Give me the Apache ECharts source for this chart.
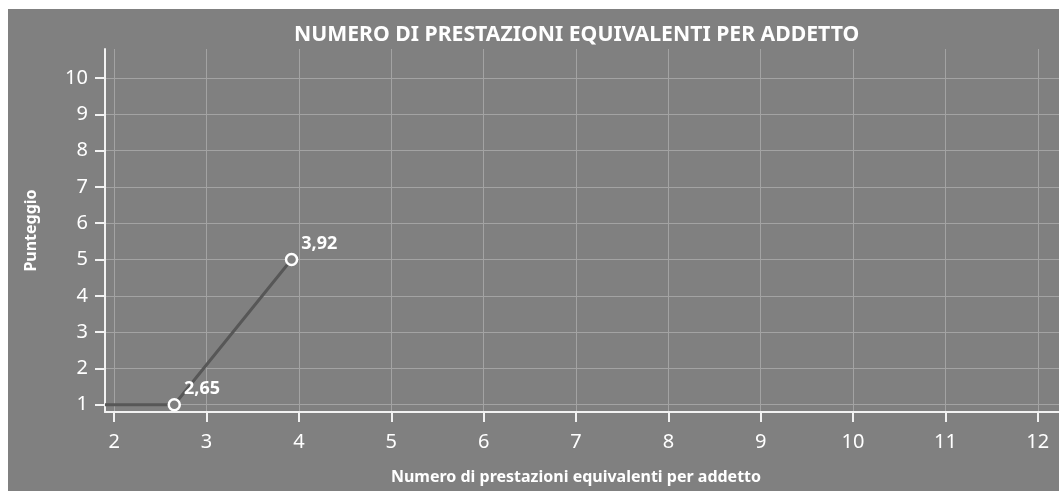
<!DOCTYPE html>
<html>
<head>
<meta charset="utf-8">
<script src="https://cdn.jsdelivr.net/npm/echarts@6/dist/echarts.min.js"></script>
<style>
  html, body { margin: 0; padding: 0; background: #ffffff; width: 1059px; height: 491px; overflow: hidden; }
  #chart { position: absolute; left: 8px; top: 9px; width: 1051px; height: 482px; background: #808080; }
</style>
</head>
<body>
<div id="chart"></div>
<script>
// Data
const chartTitle = 'NUMERO DI PRESTAZIONI EQUIVALENTI PER ADDETTO';
const xAxisName = 'Numero di prestazioni equivalenti per addetto';
const yAxisName = 'Punteggio';
const xValues = [1.9, 2.65, 3.92];
const yValues = [1, 1, 5];
const showMarker = [false, true, true];
const xTicks = [2, 3, 4, 5, 6, 7, 8, 9, 10, 11, 12];
const yTicks = [1, 2, 3, 4, 5, 6, 7, 8, 9, 10];

const FONT = 'Noto Sans';
const chart = echarts.init(document.getElementById('chart'), null, { renderer: 'canvas' });

const seriesData = xValues.map((x, i) => ({
  value: [x, yValues[i]],
  symbol: showMarker[i] ? 'circle' : 'none',
  label: { show: showMarker[i] }
}));

chart.setOption({
  backgroundColor: '#808080',
  animation: false,
  title: {
    text: chartTitle,
    left: 281,
    top: 10,
    textStyle: { color: '#ffffff', fontFamily: FONT, fontWeight: 'bold', fontSize: 21.2 }
  },
  grid: { left: 97, top: 40, right: 0, bottom: 79, containLabel: false },
  xAxis: {
    type: 'value',
    min: 1.9,
    max: 12.23,
    name: xAxisName,
    nameLocation: 'middle',
    nameGap: 57,
    nameTextStyle: { color: '#ffffff', fontFamily: FONT, fontWeight: 'bold', fontSize: 16, padding: [0, 12, 0, 0] },
    axisLine: { show: true, onZero: false, lineStyle: { color: '#f2f2f2', width: 2 } },
    axisTick: { show: true, length: 10, customValues: xTicks, lineStyle: { color: '#f2f2f2', width: 2 } },
    axisLabel: { customValues: xTicks, color: '#ffffff', fontFamily: FONT, fontSize: 20, margin: 20 },
    splitLine: { show: true, lineStyle: { color: '#a3a3a3', width: 1 } }
  },
  yAxis: {
    type: 'value',
    min: 0.8,
    max: 10.8,
    name: yAxisName,
    nameLocation: 'middle',
    nameGap: 66,
    nameRotate: 90,
    nameTextStyle: { color: '#ffffff', fontFamily: FONT, fontWeight: 'bold', fontSize: 16 },
    axisLine: { show: true, onZero: false, lineStyle: { color: '#f2f2f2', width: 2 } },
    axisTick: { show: true, length: 10, customValues: yTicks, lineStyle: { color: '#f2f2f2', width: 2 } },
    axisLabel: { customValues: yTicks, color: '#ffffff', fontFamily: FONT, fontSize: 20, margin: 17 },
    splitLine: { show: true, lineStyle: { color: '#a3a3a3', width: 1 } }
  },
  series: [{
    type: 'line',
    data: seriesData,
    symbolSize: 11,
    showAllSymbol: true,
    lineStyle: { color: '#575757', width: 3 },
    itemStyle: { color: '#808080', borderColor: '#ffffff', borderWidth: 2.5 },
    label: {
      position: 'right',
      distance: 3,
      offset: [0, -16],
      color: '#ffffff',
      fontFamily: FONT,
      fontWeight: 'bold',
      fontSize: 18,
      formatter: p => p.value[0].toFixed(2).replace('.', ',')
    },
    emphasis: { disabled: true }
  }]
});
</script>
</body>
</html>
